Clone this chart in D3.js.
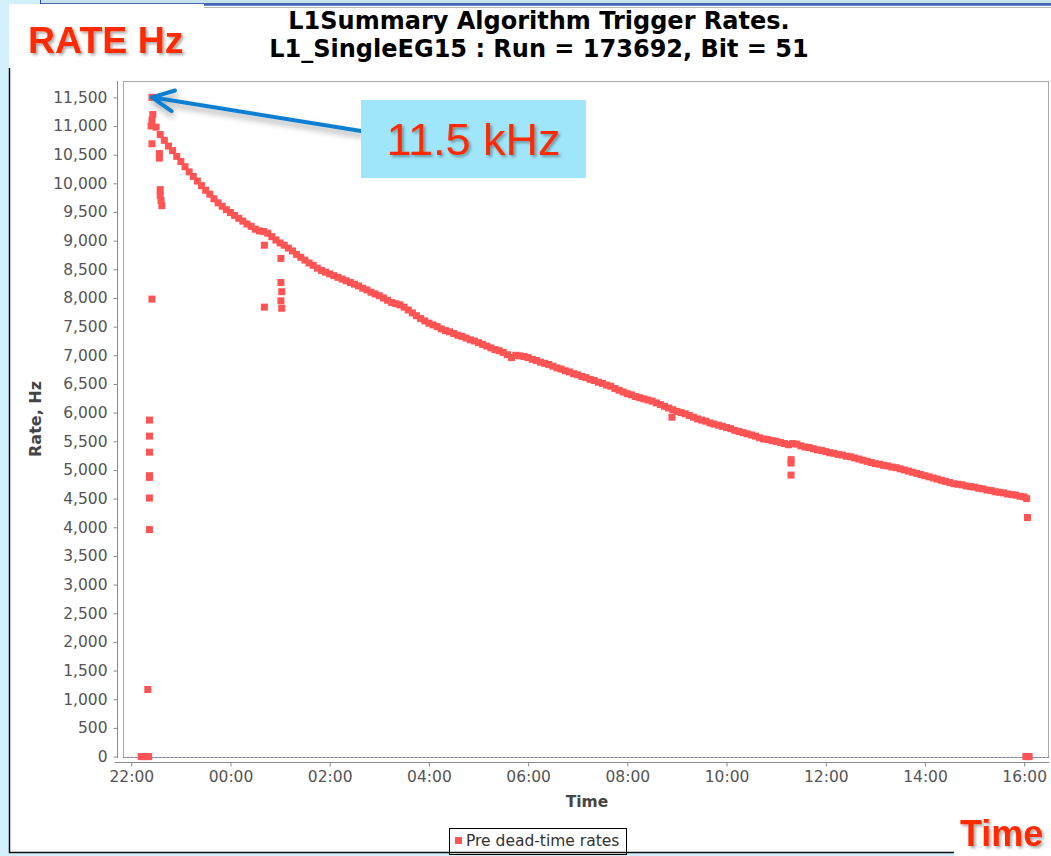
<!DOCTYPE html>
<html>
<head>
<meta charset="utf-8">
<script src="https://cdn.jsdelivr.net/npm/d3@7"></script>
<style>
  body { margin: 0; background: #d2effc; }
  svg { display: block; }
</style>
</head>
<body>
<svg id="chart" width="1051" height="856"></svg>
<script>
// ---- L1_SingleEG15 pre dead-time rate, run 173692 ----
// Main band: sampled every five minutes (clock time, run starts in the evening).
const bandTimes = [
  "22:25","22:30","22:35","22:40","22:45","22:50","22:55",
  "23:00","23:05","23:10","23:15","23:20","23:25","23:30","23:35","23:40","23:45","23:50","23:55",
  "00:00","00:05","00:10","00:15","00:20","00:25","00:30","00:35","00:40","00:45","00:50","00:55",
  "01:00","01:05","01:10","01:15","01:20","01:25","01:30","01:35","01:40","01:45","01:50","01:55",
  "02:00","02:05","02:10","02:15","02:20","02:25","02:30","02:35","02:40","02:45","02:50","02:55",
  "03:00","03:05","03:10","03:15","03:20","03:25","03:30","03:35","03:40","03:45","03:50","03:55",
  "04:00","04:05","04:10","04:15","04:20","04:25","04:30","04:35","04:40","04:45","04:50","04:55",
  "05:00","05:05","05:10","05:15","05:20","05:25","05:30","05:35","05:40","05:45","05:50","05:55",
  "06:00","06:05","06:10","06:15","06:20","06:25","06:30","06:35","06:40","06:45","06:50","06:55",
  "07:00","07:05","07:10","07:15","07:20","07:25","07:30","07:35","07:40","07:45","07:50","07:55",
  "08:00","08:05","08:10","08:15","08:20","08:25","08:30","08:35","08:40","08:45","08:50","08:55",
  "09:00","09:05","09:10","09:15","09:20","09:25","09:30","09:35","09:40","09:45","09:50","09:55",
  "10:00","10:05","10:10","10:15","10:20","10:25","10:30","10:35","10:40","10:45","10:50","10:55",
  "11:00","11:05","11:10","11:15","11:20","11:25","11:30","11:35","11:40","11:45","11:50","11:55",
  "12:00","12:05","12:10","12:15","12:20","12:25","12:30","12:35","12:40","12:45","12:50","12:55",
  "13:00","13:05","13:10","13:15","13:20","13:25","13:30","13:35","13:40","13:45","13:50","13:55",
  "14:00","14:05","14:10","14:15","14:20","14:25","14:30","14:35","14:40","14:45","14:50","14:55",
  "15:00","15:05","15:10","15:15","15:20","15:25","15:30","15:35","15:40","15:45","15:50","15:55",
  "16:00","16:03"
];
const bandRates = [
  11100,10980,10850,10750,10650,10570,10470,
  10380,10290,10200,10120,10040,9960,9880,9810,9730,9660,9600,9540,
  9490,9440,9390,9340,9290,9250,9200,9170,9160,9130,9070,9010,
  8960,8920,8870,8820,8760,8710,8660,8610,8570,8520,8480,8450,
  8420,8390,8360,8330,8300,8270,8240,8210,8170,8140,8100,8070,
  8040,8000,7960,7920,7900,7880,7840,7790,7740,7690,7640,7600,
  7560,7530,7500,7460,7430,7410,7380,7350,7330,7300,7270,7250,
  7220,7190,7160,7130,7100,7080,7050,7010,6960,7000,6990,6980,
  6960,6930,6910,6880,6860,6840,6810,6780,6760,6730,6710,6680,
  6660,6630,6610,6580,6560,6530,6510,6480,6460,6420,6390,6360,
  6330,6310,6280,6260,6240,6220,6200,6170,6140,6110,6080,6050,
  6020,6000,5980,5950,5920,5890,5870,5850,5820,5800,5780,5760,
  5740,5720,5690,5670,5650,5630,5610,5590,5560,5540,5530,5510,
  5500,5480,5460,5440,5460,5450,5420,5400,5390,5370,5350,5340,
  5320,5300,5290,5270,5260,5240,5230,5210,5190,5170,5150,5130,
  5110,5100,5080,5070,5050,5040,5020,5000,4980,4960,4940,4920,
  4900,4880,4860,4840,4820,4800,4780,4760,4750,4740,4720,4710,
  4700,4680,4670,4650,4640,4620,4610,4600,4580,4570,4560,4540,
  4530,4500
];

// Readings off the main band: ramp-up at the start, dips, and the end of run.
const spikeTimes = [
  "22:12","22:15","22:18","22:21","22:20",
  "22:22","22:22","22:22","22:22","22:22","22:22","22:22",
  "22:24","22:25","22:26","22:25","22:25",
  "22:34","22:34","22:35","22:35","22:36","22:37",
  "00:41","00:41",
  "01:01","01:01","01:02","01:01","01:02",
  "08:54",
  "11:18","11:18","11:18",
  "16:02","16:04","16:06","16:04"
];
const spikeRates = [
  0,0,0,0,1170,
  3960,4510,4870,4900,5310,5590,5870,
  11000,11500,11200,10690,7980,
  10520,10440,9890,9790,9700,9610,
  8920,7840,
  8690,8270,8110,7950,7820,
  5920,
  5180,5120,4910,
  0,0,0,4170
];

// Axis ticks
const rateTicks = [0,500,1000,1500,2000,2500,3000,3500,4000,4500,5000,5500,
                   6000,6500,7000,7500,8000,8500,9000,9500,10000,10500,11000,11500];
const timeTicks = ["22:00","00:00","02:00","04:00","06:00","08:00","10:00","12:00","14:00","16:00"];

const titleLines = ["L1Summary Algorithm Trigger Rates.",
                    "L1_SingleEG15 : Run = 173692, Bit = 51"];
const seriesName = "Pre dead-time rates";
const peakLabel = "11.5 kHz";
const peakRate = 11500;
const peakTime = "22:25";

// clock strings -> dates; evening hours belong to the first day of the run
function toDate(s) {
  const [h, m] = s.split(":").map(Number);
  return new Date(2011, 8, h >= 20 ? 20 : 21, h, m);
}

const svg = d3.select("#chart");
const W = 1051, H = 856;
const plot = { left: 123, right: 1049, top: 81, bottom: 758 };

const defs = svg.append("defs");
const sh = defs.append("filter").attr("id", "txtShadow")
  .attr("x", "-10%").attr("y", "-20%").attr("width", "130%").attr("height", "150%");
sh.append("feDropShadow").attr("dx", 2).attr("dy", 2).attr("stdDeviation", 1.5)
  .attr("flood-color", "#000").attr("flood-opacity", 0.35);
const ash = defs.append("filter").attr("id", "arrowShadow")
  .attr("x", "-10%").attr("y", "-100%").attr("width", "130%").attr("height", "400%");
ash.append("feDropShadow").attr("dx", 1).attr("dy", 4).attr("stdDeviation", 3)
  .attr("flood-color", "#000").attr("flood-opacity", 0.35);

// slide background and the embedded window screenshot
svg.append("rect").attr("width", W).attr("height", H).attr("fill", "#d2effc");
svg.append("rect").attr("x", 41).attr("y", 0).attr("width", W - 41).attr("height", 4).attr("fill", "#c6e2ea");
svg.append("line").attr("x1", 40.5).attr("x2", 40.5).attr("y1", 0).attr("y2", 5).attr("stroke", "#2a4aa8");
svg.append("line").attr("x1", 41).attr("x2", W).attr("y1", 4).attr("y2", 4).attr("stroke", "#1f3c9e").attr("stroke-width", 1.5);
svg.append("line").attr("x1", 41).attr("x2", W).attr("y1", 5.5).attr("y2", 5.5).attr("stroke", "#5f86d8").attr("stroke-width", 1);
svg.append("rect").attr("x", 9).attr("y", 6).attr("width", W - 9).attr("height", 846).attr("fill", "#fff");
svg.append("line").attr("x1", 204).attr("x2", W).attr("y1", 7.5).attr("y2", 7.5).attr("stroke", "#b8b8b8");

// scales
const x = d3.scaleTime().domain([toDate("21:50"), toDate("16:30")]).range([plot.left, plot.right]);
const y = d3.scaleLinear().domain([-25, 11785]).range([plot.bottom, plot.top]);

// plot frame
svg.append("rect").attr("x", plot.left + 0.5).attr("y", plot.top + 0.5)
  .attr("width", plot.right - plot.left - 1).attr("height", plot.bottom - plot.top - 1)
  .attr("fill", "#fff").attr("stroke", "#a8a8a8");
svg.append("line").attr("x1", plot.left).attr("x2", plot.right)
  .attr("y1", Math.round(y(0)) + 0.5).attr("y2", Math.round(y(0)) + 0.5)
  .attr("stroke", "#7c7ca8").attr("stroke-dasharray", "2,2");

// axes
const axisFont = "DejaVu Sans, sans-serif";
const yAxis = svg.append("g").attr("transform", `translate(117.5,0)`)
  .call(d3.axisLeft(y).tickValues(rateTicks).tickFormat(d3.format(","))
    .tickSize(4).tickSizeOuter(0).tickPadding(6));
const xAxis = svg.append("g").attr("transform", `translate(0,762.5)`)
  .call(d3.axisBottom(x).tickValues(timeTicks.map(toDate)).tickFormat(d3.timeFormat("%H:%M"))
    .tickSize(4).tickSizeOuter(0).tickPadding(4));
yAxis.select(".domain").attr("d", `M0,${plot.top}V${plot.bottom}`);
xAxis.select(".domain").attr("d", `M${plot.left - 8},0H${plot.right}`);
[yAxis, xAxis].forEach(g => {
  g.selectAll(".domain, .tick line").attr("stroke", "#8c8c8c");
  g.selectAll(".tick text").attr("fill", "#555").attr("font-family", axisFont).attr("font-size", 15.5);
});

svg.append("text").attr("transform", `translate(41,419) rotate(-90)`)
  .attr("text-anchor", "middle").attr("font-family", axisFont).attr("font-weight", "bold")
  .attr("font-size", 16).attr("fill", "#444").text("Rate, Hz");
svg.append("text").attr("x", 587).attr("y", 807)
  .attr("text-anchor", "middle").attr("font-family", axisFont).attr("font-weight", "bold")
  .attr("font-size", 15.5).attr("fill", "#444").text("Time");

// data points
const pts = bandTimes.map((t, i) => ({ t: toDate(t), v: bandRates[i] }))
  .concat(spikeTimes.map((t, i) => ({ t: toDate(t), v: spikeRates[i] })));
const S = 7;
svg.append("g").selectAll("rect").data(pts).join("rect")
  .attr("x", d => x(d.t) - S / 2).attr("y", d => y(d.v) - S / 2)
  .attr("width", S).attr("height", S).attr("fill", "#ff5454");

// title, two lines
const titleFont = 24;
titleLines.forEach((line, i) => {
  svg.append("text").attr("x", 539).attr("y", 29 + i * 28).attr("text-anchor", "middle")
    .attr("font-family", axisFont).attr("font-weight", "bold").attr("font-size", titleFont)
    .attr("fill", "#000").text(line);
});

// legend
const lg = svg.append("g");
lg.append("rect").attr("x", 449.5).attr("y", 828.5).attr("width", 177).attr("height", 26)
  .attr("fill", "#fff").attr("stroke", "#000");
lg.append("rect").attr("x", 455).attr("y", 837).attr("width", 7).attr("height", 7).attr("fill", "#ff5454");
lg.append("text").attr("x", 466).attr("y", 846).attr("font-family", axisFont)
  .attr("font-size", 15.5).attr("fill", "#333").text(seriesName);

// screenshot border
svg.append("path").attr("d", `M9.5,68V852.5H954`).attr("fill", "none").attr("stroke", "#111").attr("stroke-width", 1.5);

// slide annotations
svg.append("rect").attr("x", 9).attr("y", 4).attr("width", 195).attr("height", 64).attr("fill", "#fff");
svg.append("text").attr("x", 28).attr("y", 53).attr("font-family", "Liberation Sans, Arial, sans-serif")
  .attr("font-weight", "bold").attr("font-size", 37.5).attr("fill", "#ff2a00")
  .attr("filter", "url(#txtShadow)").text("RATE Hz");

svg.append("rect").attr("x", 954).attr("y", 806).attr("width", W - 954).attr("height", 50).attr("fill", "#fff");
svg.append("text").attr("x", 960).attr("y", 846).attr("font-family", "Liberation Sans, Arial, sans-serif")
  .attr("font-weight", "bold").attr("font-size", 36).attr("fill", "#ff2a00")
  .attr("filter", "url(#txtShadow)").text("Time");

// callout for the peak rate
const tipX = x(toDate(peakTime)), tipY = y(peakRate);
const boxX = 361, boxY = 100, boxW = 225, boxH = 78;
const tailY = 131;
const ang = Math.atan2(tailY - tipY, boxX - tipX);
const headLen = 24, headSpread = 0.45;
const arrowPath = `M${boxX},${tailY}L${tipX},${tipY}` +
  `M${tipX + headLen * Math.cos(ang - headSpread)},${tipY + headLen * Math.sin(ang - headSpread)}` +
  `L${tipX},${tipY}` +
  `L${tipX + headLen * Math.cos(ang + headSpread)},${tipY + headLen * Math.sin(ang + headSpread)}`;
svg.append("path").attr("d", arrowPath).attr("fill", "none").attr("stroke", "#0f7fd2")
  .attr("stroke-width", 4).attr("stroke-linecap", "round").attr("stroke-linejoin", "round")
  .attr("filter", "url(#arrowShadow)");
svg.append("rect").attr("x", boxX).attr("y", boxY).attr("width", boxW).attr("height", boxH).attr("fill", "#a0e6fb");
svg.append("text").attr("x", boxX + boxW / 2).attr("y", 155).attr("text-anchor", "middle")
  .attr("font-family", "Liberation Sans, Arial, sans-serif").attr("font-size", 45)
  .attr("fill", "#ff2a00").attr("filter", "url(#txtShadow)").text(peakLabel);
</script>
</body>
</html>
